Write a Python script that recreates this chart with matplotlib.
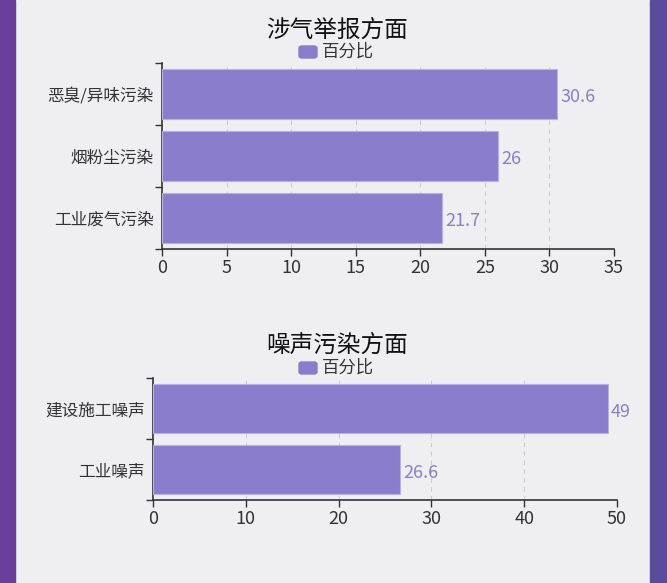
import matplotlib
matplotlib.use("Agg")
import matplotlib.pyplot as plt
from matplotlib.patches import Rectangle, FancyBboxPatch

plt.rcParams['font.family'] = ['Noto Sans CJK SC', 'DejaVu Sans']

title1 = "涉气举报方面"
cats1 = ["恶臭/异味污染", "烟粉尘污染", "工业废气污染"]
vals1 = [30.6, 26, 21.7]
xticks1 = [0, 5, 10, 15, 20, 25, 30, 35]

title2 = "噪声污染方面"
cats2 = ["建设施工噪声", "工业噪声"]
vals2 = [49, 26.6]
xticks2 = [0, 10, 20, 30, 40, 50]

legend_label = "百分比"

W, H = 667, 583
fig = plt.figure(figsize=(W/100, H/100), dpi=100)
fig.patch.set_facecolor('#efeef1')
fig.patches.append(Rectangle((0, 0), 15/W, 1, transform=fig.transFigure, color='#6a3e9b', zorder=0))
fig.patches.append(Rectangle((650/W, 0), 17/W, 1, transform=fig.transFigure, color='#5b4b9c', zorder=0))

bar_color = '#8a7dcb'
label_color = '#8a80c6'

def draw(rect, title, cats, vals, xticks, title_y, legend_y, cx):
    ax = fig.add_axes(rect)
    ax.set_facecolor('none')
    n = len(cats)
    ys = list(range(n))
    ax.barh(ys, vals, height=0.8, color=bar_color, edgecolor='#b9b1e0', linewidth=0.8, zorder=3)
    ax.set_ylim(n - 0.5, -0.5)
    ax.set_xlim(xticks[0], xticks[-1])
    ax.set_xticks(xticks)
    ax.set_yticks(ys)
    ax.set_yticklabels(cats)
    ax.set_yticks([i - 0.5 for i in range(n + 1)], minor=True)
    ax.tick_params(axis='y', which='major', length=0, pad=6, labelsize=12, labelcolor='#333333')
    ax.tick_params(axis='y', which='minor', length=5, color='#333333', width=1, direction='out')
    ax.tick_params(axis='x', length=5, color='#333333', width=1, labelsize=13, labelcolor='#333333', pad=2)
    for s in ['top', 'right']:
        ax.spines[s].set_visible(False)
    for s in ['left', 'bottom']:
        ax.spines[s].set_color('#333333')
        ax.spines[s].set_linewidth(1.2)
    for t in xticks[1:]:
        ax.axvline(t, color='#cccccc', linestyle=(0, (4, 4)), linewidth=0.8, zorder=1)
    for y, v in zip(ys, vals):
        ax.text(v + (xticks[-1] - xticks[0]) * 0.007, y + 0.05, f"{v:g}", va='center', ha='left',
                color=label_color, fontsize=13, zorder=4)
    fig.text(cx / W, 1 - title_y / H, title, ha='center', va='center', fontsize=17, color='#111111')
    # legend
    fig.patches.append(FancyBboxPatch(((cx - 38) / W, 1 - (legend_y + 6) / H), 18 / W, 12 / H,
                                      boxstyle='round,pad=0,rounding_size=0.004', transform=fig.transFigure,
                                      color=bar_color, zorder=5))
    fig.text((cx - 15) / W, 1 - legend_y / H, legend_label, ha='left', va='center', fontsize=12.5, color='#333333')
    return ax

draw([162/W, 1 - 249/H, (614-162)/W, (249-63)/H], title1, cats1, vals1, xticks1, 30, 52, 337)
draw([153/W, 1 - 500/H, (617-153)/W, (500-378)/H], title2, cats2, vals2, xticks2, 345, 368, 337)

fig.savefig("out.png", dpi=100, facecolor=fig.get_facecolor())
